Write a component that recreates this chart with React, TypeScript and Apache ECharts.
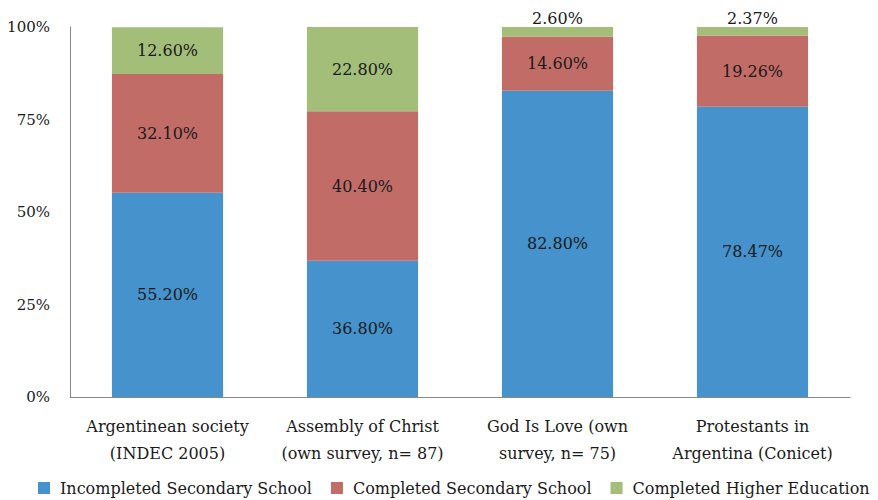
import React, { useEffect, useRef } from "react";
import * as echarts from "echarts";

const categories = [
  "Argentinean society\n(INDEC 2005)",
  "Assembly of Christ\n(own survey, n= 87)",
  "God Is Love (own\nsurvey, n= 75)",
  "Protestants in\nArgentina (Conicet)",
];
const incompletedSecondary = [55.2, 36.8, 82.8, 78.47];
const completedSecondary = [32.1, 40.4, 14.6, 19.26];
const completedHigher = [12.6, 22.8, 2.6, 2.37];
const yTicks = [0, 25, 50, 75, 100];

const FONT = "DejaVu Serif";

export default function App() {
  const ref = useRef<HTMLDivElement>(null);
  useEffect(() => {
    if (!ref.current) return;
    const chart = echarts.init(ref.current, null, { renderer: "svg" });
    const lbl = {
      show: true,
      position: "inside",
      color: "#1a1a1a",
      fontFamily: FONT,
      fontSize: 16,
      formatter: (p: any) => p.value.toFixed(2) + "%",
    };
    chart.setOption({
      animation: false,
      textStyle: { fontFamily: FONT },
      grid: {
        left: 70,
        right: 28,
        top: 27,
        bottom: 103,
        containLabel: false,
        outerBoundsMode: "none",
      },
      legend: {
        top: 480,
        left: 38,
        padding: 0,
        itemWidth: 12,
        itemHeight: 12,
        itemGap: 19,
        icon: "rect",
        textStyle: {
          fontFamily: FONT,
          fontSize: 16,
          color: "#1a1a1a",
          padding: [0, 0, 0, 5],
        },
      },
      xAxis: {
        type: "category",
        data: categories,
        axisLine: { lineStyle: { color: "#888" } },
        axisTick: { show: false },
        axisLabel: {
          color: "#1a1a1a",
          fontFamily: FONT,
          fontSize: 16,
          lineHeight: 27,
          margin: 16,
          interval: 0,
        },
      },
      yAxis: {
        type: "value",
        min: 0,
        max: 100,
        interval: 25,
        axisLine: { show: true, lineStyle: { color: "#888" } },
        axisTick: { show: false },
        splitLine: { show: false },
        axisLabel: {
          color: "#1a1a1a",
          fontFamily: FONT,
          fontSize: 15,
          margin: 20,
          formatter: (v: number) => (yTicks.includes(v) ? v + "%" : ""),
        },
      },
      series: [
        {
          name: "Incompleted Secondary School",
          type: "bar",
          stack: "a",
          barWidth: "57%",
          itemStyle: { color: "#4592CC" },
          label: lbl,
          data: incompletedSecondary,
        },
        {
          name: "Completed Secondary School",
          type: "bar",
          stack: "a",
          itemStyle: { color: "#C16C67" },
          label: lbl,
          data: completedSecondary,
        },
        {
          name: "Completed Higher Education",
          type: "bar",
          stack: "a",
          itemStyle: { color: "#A3BE79" },
          label: lbl,
          data: completedHigher.map((v) =>
            v < 5
              ? { value: v, label: { position: "top", distance: 1 } }
              : { value: v }
          ),
        },
      ],
    });
    return () => chart.dispose();
  }, []);
  return (
    <div
      ref={ref}
      style={{ width: 878, height: 500, margin: "-8px 0 0 -8px" }}
    />
  );
}
